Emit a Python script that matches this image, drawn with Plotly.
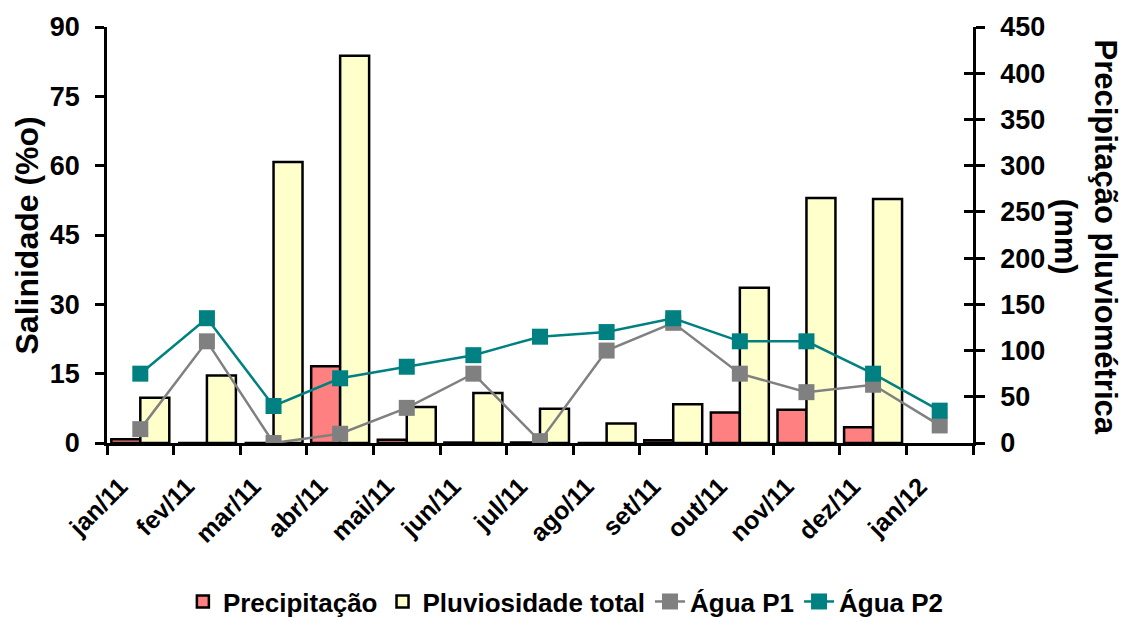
import plotly.graph_objects as go

# Monthly categories
months = ["jan/11", "fev/11", "mar/11", "abr/11", "mai/11", "jun/11", "jul/11",
          "ago/11", "set/11", "out/11", "nov/11", "dez/11", "jan/12"]

# Rainfall (mm) - right axis
precipitacao = [4, 0, 0, 83, 3.5, 0.5, 0.5, 0, 3, 33, 36, 17, None]
pluviosidade_total = [49, 73, 304, 419, 39, 54, 37, 21, 42, 168, 265, 264, None]

# Salinity (%o) - left axis
agua_p1 = [3, 22, 0, 2, 7.6, 15, 0.4, 20, 26, 15, 11, 12.6, 3.8]
agua_p2 = [15, 27, 8, 14, 16.5, 19, 23, 24, 27, 22, 22, 15, 7]

# Page / plot-area geometry (px)
W, H = 1125, 617
ML, MR, MT, MB = 107, 152, 24, 174
PW, PH = W - ML - MR, H - MT - MB

FONT = "Arial, 'Liberation Sans', sans-serif"
AX_W = 2.5


def px_x(x):
    return (x - ML) / PW


def px_y(y):
    return (H - MB - y) / PH


fig = go.Figure()

fig.add_bar(x=months, y=precipitacao, name="Precipitação",
            marker=dict(color="#FF8080", line=dict(color="black", width=AX_W)),
            yaxis="y")
fig.add_bar(x=months, y=pluviosidade_total, name="Pluviosidade total",
            marker=dict(color="#FFFFCC", line=dict(color="black", width=AX_W)),
            yaxis="y")
fig.add_scatter(x=months, y=agua_p1, name="Água P1", mode="lines+markers",
                line=dict(color="#808080", width=2.5),
                marker=dict(symbol="square", size=16, color="#808080"),
                yaxis="y2")
fig.add_scatter(x=months, y=agua_p2, name="Água P2", mode="lines+markers",
                line=dict(color="#008080", width=2.5),
                marker=dict(symbol="square", size=16, color="#008080"),
                yaxis="y2")
# carrier for the inward half of the right-axis cross ticks
fig.add_scatter(x=[months[0]], y=[0], yaxis="y3", mode="markers",
                marker=dict(opacity=0), showlegend=False, hoverinfo="skip")

fig.update_layout(
    width=W, height=H,
    margin=dict(l=ML, r=MR, t=MT, b=MB, pad=0),
    paper_bgcolor="white", plot_bgcolor="white",
    font=dict(family=FONT, color="black", size=25, weight="bold"),
    barmode="group", bargap=0.13, bargroupgap=0,
    showlegend=True,
    legend=dict(orientation="h", xref="container", yref="container",
                x=0.503, xanchor="center", y=0.025, yanchor="middle",
                font=dict(size=26, family=FONT, weight="bold"),
                tracegroupgap=0),
    xaxis=dict(type="category", range=[-0.5, 12.5], tickson="boundaries",
               ticks="outside", ticklen=9, tickwidth=AX_W, tickcolor="black",
               showline=True, linecolor="black", linewidth=AX_W,
               showgrid=False, zeroline=False, tickangle=-45,
               tickfont=dict(size=25), ticklabelstandoff=16,
               ticklabelshift=-20),
    yaxis=dict(side="right", range=[0, 450], dtick=50, tick0=0,
               ticks="outside", ticklen=9, tickwidth=AX_W, tickcolor="black",
               showline=True, linecolor="black", linewidth=AX_W,
               showgrid=False, zeroline=False,
               tickfont=dict(size=27), ticklabelstandoff=10),
    yaxis2=dict(overlaying="y", side="left", range=[0, 90], dtick=15, tick0=0,
                ticks="outside", ticklen=9, tickwidth=AX_W, tickcolor="black",
                showline=True, linecolor="black", linewidth=AX_W,
                showgrid=False, zeroline=False,
                tickfont=dict(size=27), ticklabelstandoff=10),
    yaxis3=dict(overlaying="y", side="right", range=[0, 450], dtick=50, tick0=0,
                ticks="inside", ticklen=9, tickwidth=AX_W, tickcolor="black",
                showline=False, showgrid=False, zeroline=False,
                showticklabels=False),
    annotations=[
        dict(text="Salinidade (%o)", textangle=-90, xref="paper", yref="paper",
             x=px_x(27), y=px_y(234), xanchor="center", yanchor="middle",
             showarrow=False, font=dict(size=32, family=FONT, weight="bold")),
        dict(text="Precipitação pluviométrica<br>(mm)", textangle=90,
             xref="paper", yref="paper", x=px_x(1086), y=px_y(235),
             xanchor="center", yanchor="middle", showarrow=False,
             font=dict(size=31, family=FONT, weight="bold")),
    ],
)

fig.write_html("out.html")
